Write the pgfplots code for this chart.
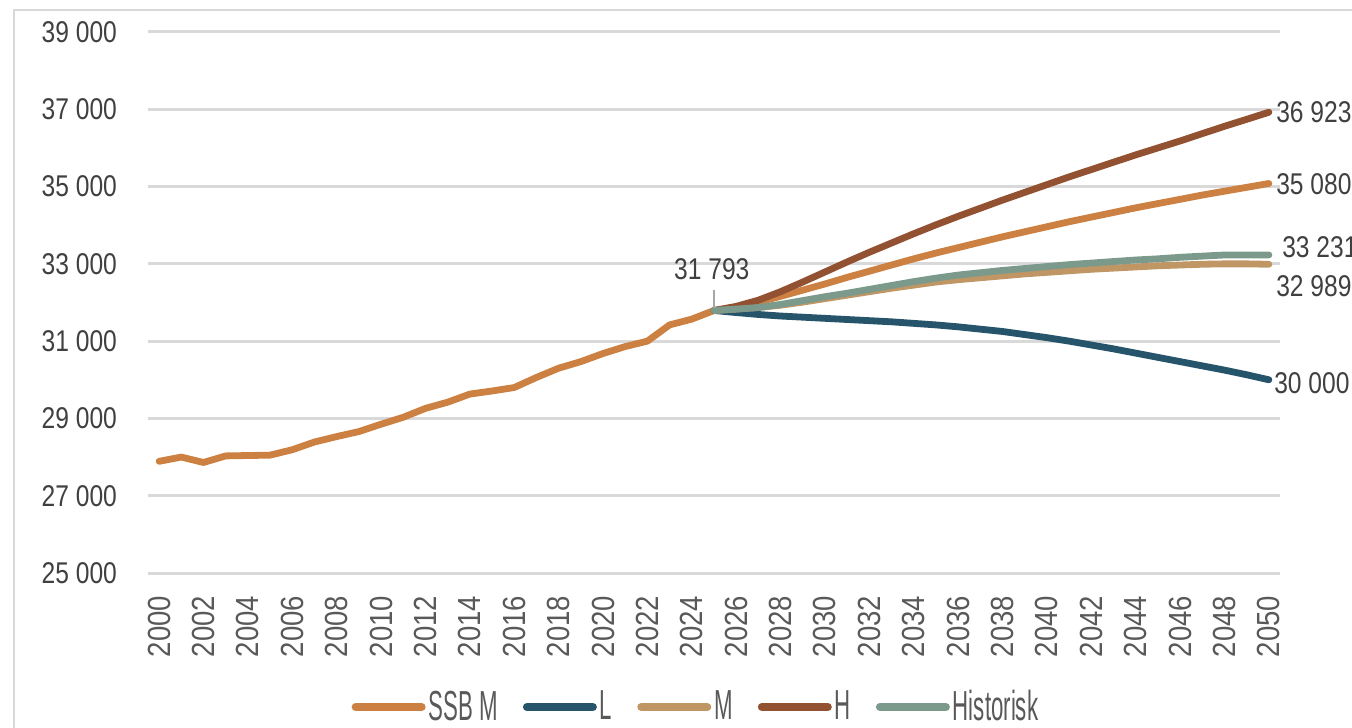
\documentclass[border=0pt]{standalone}
\usepackage{fontspec}
\setmainfont{Liberation Sans}
\newfontfamily\numfont{Liberation Sans}[FakeStretch=0.82]
\newfontfamily\legfont{Liberation Sans}[FakeStretch=0.53]
\newfontfamily\xfont{Liberation Sans}[FakeStretch=0.86]
\usepackage{pgfplots}
\usepackage{pgfplotstable}
\pgfplotsset{compat=1.18}
\definecolor{cssb}{HTML}{CC8042}
\definecolor{cL}{HTML}{26546A}
\definecolor{cM}{HTML}{BF9664}
\definecolor{cH}{HTML}{925130}
\definecolor{cHist}{HTML}{7C9A8C}
\definecolor{gridgray}{HTML}{D9D9D9}
\definecolor{txtdark}{HTML}{404040}
\definecolor{txtgray}{HTML}{595959}

\pgfplotstableread{
year val
2000 27890
2001 28000
2002 27860
2003 28030
2004 28040
2005 28050
2006 28190
2007 28390
2008 28530
2009 28660
2010 28850
2011 29030
2012 29260
2013 29420
2014 29630
2015 29710
2016 29800
2017 30060
2018 30300
2019 30470
2020 30680
2021 30860
2022 31000
2023 31420
2024 31570
2025 31793
2026 31880
2027 32010
2028 32160
2029 32320
2030 32480
2031 32650
2032 32810
2033 32970
2034 33130
2035 33280
2036 33420
2037 33560
2038 33700
2039 33830
2040 33960
2041 34090
2042 34210
2043 34330
2044 34450
2045 34560
2046 34670
2047 34780
2048 34880
2049 34980
2050 35080
}\ssbm

\pgfplotstableread{
year L M H Hist
2025 31793 31793 31793 31793
2026 31740 31830 31900 31830
2027 31690 31870 32060 31870
2028 31650 31930 32280 31950
2029 31620 32010 32530 32050
2030 31590 32100 32790 32150
2031 31560 32190 33050 32240
2032 31530 32280 33300 32340
2033 31500 32370 33540 32440
2034 31460 32450 33780 32540
2035 31420 32530 34010 32630
2036 31370 32590 34230 32710
2037 31310 32640 34440 32770
2038 31250 32690 34650 32830
2039 31170 32740 34850 32880
2040 31090 32780 35050 32930
2041 31000 32820 35250 32980
2042 30900 32860 35440 33020
2043 30800 32890 35630 33060
2044 30690 32920 35820 33100
2045 30580 32950 36000 33130
2046 30470 32970 36180 33170
2047 30360 32990 36370 33200
2048 30250 33000 36560 33230
2049 30130 33000 36740 33230
2050 30000 32989 36923 33231
}\proj

\begin{document}
\begin{tikzpicture}
\path[use as bounding box] (-74bp,-77.5bp) rectangle (602bp,286.5bp);
\draw[color=gridgray, line width=1bp] (-67bp,-77.5bp) -- (-67bp,281.5bp) -- (602bp,281.5bp);
\begin{axis}[
  scale only axis, width=566bp, height=270.5bp,
  xmin=1999.5, xmax=2050.5, ymin=25000, ymax=39000,
  clip=false,
  scaled y ticks=false, scaled x ticks=false,
  axis line style={draw=none},
  major tick length=0pt,
  ymajorgrids, grid style={gridgray, line width=1.5bp},
  ytick={25000,27000,...,39000},
  yticklabels={25 000,27 000,29 000,31 000,33 000,35 000,37 000,39 000},
  yticklabel style={font=\numfont\fontsize{15bp}{18bp}\selectfont, text=txtdark, anchor=east, xshift=-12bp},
  xtick={2000,2002,...,2050},
  xticklabels={2000,2002,2004,2006,2008,2010,2012,2014,2016,2018,2020,2022,2024,2026,2028,2030,2032,2034,2036,2038,2040,2042,2044,2046,2048,2050},
  xticklabel style={font=\xfont\fontsize{16bp}{18bp}\selectfont, text=txtgray, rotate=90, anchor=east, xshift=-8bp},
  legend columns=5,
  legend style={at={(0.4845,-0.2477)}, anchor=center, draw=none, fill=none,
    font=\legfont\fontsize{21bp}{24bp}\selectfont, text=txtgray,
    /tikz/every even column/.append style={column sep=11bp},
    nodes={inner xsep=1.5bp}},
  legend image code/.code={\draw[#1, line width=4bp, line cap=round] (0bp,0bp) -- (33bp,0bp);},
  every axis plot/.append style={line width=3.4bp, line cap=round, line join=round},
]
\addplot[cssb, no markers] table[x=year, y=val] {\ssbm};
\addlegendentry{SSB M}
\addplot[cL, no markers] table[x=year, y=L] {\proj};
\addlegendentry{L}
\addplot[cM, no markers] table[x=year, y=M] {\proj};
\addlegendentry{M}
\addplot[cH, no markers] table[x=year, y=H] {\proj};
\addlegendentry{H}
\addplot[cHist, no markers] table[x=year, y=Hist] {\proj};
\addlegendentry{Historisk}

\draw[gray!70, line width=0.8bp] (axis cs:2025,31850) -- (axis cs:2025,32320);
\node[font=\numfont\fontsize{15bp}{18bp}\selectfont, text=txtdark] at (axis cs:2024.9,32850) {31 793};
\node[font=\numfont\fontsize{15bp}{18bp}\selectfont, text=txtdark, anchor=west, inner xsep=0pt] at ([xshift=3.5bp]axis cs:2050,36923) {36 923};
\node[font=\numfont\fontsize{15bp}{18bp}\selectfont, text=txtdark, anchor=west, inner xsep=0pt] at ([xshift=3.5bp]axis cs:2050,35060) {35 080};
\node[font=\numfont\fontsize{15bp}{18bp}\selectfont, text=txtdark, anchor=west, inner xsep=0pt] at ([xshift=6.5bp]axis cs:2050,33436) {33 231};
\node[font=\numfont\fontsize{15bp}{18bp}\selectfont, text=txtdark, anchor=west, inner xsep=0pt] at ([xshift=3.5bp]axis cs:2050,32427) {32 989};
\node[font=\numfont\fontsize{15bp}{18bp}\selectfont, text=txtdark, anchor=west, inner xsep=0pt] at ([xshift=2.5bp]axis cs:2050,29916) {30 000};
\end{axis}
\end{tikzpicture}
\end{document}
